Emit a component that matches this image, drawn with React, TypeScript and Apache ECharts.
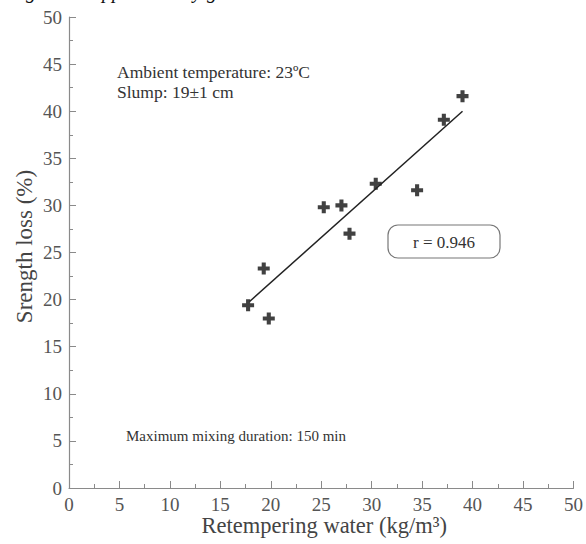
import React, { useEffect, useRef } from "react";
import * as echarts from "echarts";

// Retempering water (kg/m3) and strength loss (%)
const waterX = [17.75, 19.3, 19.8, 25.25, 27.0, 27.8, 30.4, 34.5, 37.15, 39.0];
const lossY = [19.4, 23.3, 18.0, 29.8, 30.0, 27.0, 32.3, 31.6, 39.1, 41.6];
// fitted line end points
const trendX = [17.9, 39.0];
const trendY = [19.8, 40.0];

const xTitle = "Retempering water (kg/m³)";
const yTitle = "Srength loss (%)";
const noteTemp = "Ambient temperature: 23ºC";
const noteSlump = "Slump: 19±1 cm";
const noteMix = "Maximum mixing duration: 150 min";
const rText = "r = 0.946";

const SERIF = "'Liberation Serif', 'DejaVu Serif', serif";
const AXIS_COLOR = "#8a8a8a";
const LABEL_COLOR = "#555";

const plusPath = "path://M3.3,0H6.7V3.3H10V6.7H6.7V10H3.3V6.7H0V3.3H3.3Z";

export default function App() {
  const ref = useRef<HTMLDivElement>(null);

  useEffect(() => {
    if (!ref.current) return;
    const chart = echarts.init(ref.current, undefined, { renderer: "svg" });

    const axisCommon = (name: string, gap: number, nameSize: number, namePad: number[]) => ({
      type: "value" as const,
      min: 0,
      max: 50,
      interval: 5,
      name,
      nameLocation: "middle" as const,
      nameGap: gap,
      nameMoveOverlap: false,
      nameTextStyle: { color: "#444", fontFamily: SERIF, fontSize: nameSize, padding: namePad },
      axisLine: { show: true, lineStyle: { color: AXIS_COLOR, width: 1.2 } },
      axisTick: { show: true, inside: true, length: 7, lineStyle: { color: AXIS_COLOR, width: 1 } },
      minorTick: { show: true, splitNumber: 2, length: 4, lineStyle: { color: AXIS_COLOR, width: 1 } },
      splitLine: { show: false },
      axisLabel: { color: LABEL_COLOR, fontFamily: SERIF, fontSize: 19, margin: 7 },
    });

    const points = waterX.map((x, i) => [x, lossY[i]]);
    const trend = trendX.map((x, i) => [x, trendY[i]]);

    chart.setOption({
      animation: false,
      backgroundColor: "#fff",
      grid: { left: 69, right: 12, top: 17, bottom: 56, containLabel: false },
      xAxis: axisCommon(xTitle, 26, 22.5, [0, 0, 0, 6]),
      yAxis: axisCommon(yTitle, 33, 23, [0, 0, 0, 12]),
      series: [
        {
          type: "line",
          data: trend,
          symbol: "none",
          lineStyle: { color: "#222", width: 1.5 },
          silent: true,
        },
        {
          type: "scatter",
          data: points,
          symbol: plusPath,
          symbolSize: 12,
          itemStyle: { color: "#111" },
        },
      ],
      graphic: [
        {
          type: "text",
          left: 117,
          top: 63,
          style: { text: noteTemp, fill: "#333", font: `17.5px ${SERIF}` },
        },
        {
          type: "text",
          left: 117,
          top: 83,
          style: { text: noteSlump, fill: "#333", font: `17.5px ${SERIF}` },
        },
        {
          type: "text",
          left: 126,
          top: 428,
          style: { text: noteMix, fill: "#333", font: `15px ${SERIF}` },
        },
        {
          type: "rect",
          shape: { x: 388, y: 225, width: 112, height: 33, r: 10 },
          style: { fill: "none", stroke: "#777", lineWidth: 1.2 },
        },
        {
          type: "text",
          x: 444,
          y: 242,
          style: {
            text: rText,
            fill: "#333",
            font: `17px ${SERIF}`,
            align: "center",
            verticalAlign: "middle",
          },
        },
        // descenders of the cropped caption line above the chart
        {
          type: "text",
          x: 26,
          y: -19,
          style: { text: "g", fill: "#111", font: `italic 20px ${SERIF}` },
        },
        {
          type: "text",
          x: 102,
          y: -19,
          style: { text: "pp", fill: "#111", font: `italic 20px ${SERIF}` },
        },
        {
          type: "text",
          x: 193,
          y: -19,
          style: { text: "y g", fill: "#111", font: `italic 20px ${SERIF}` },
        },
      ],
    });

    return () => chart.dispose();
  }, []);

  return (
    <div
      ref={ref}
      style={{ position: "fixed", left: 0, top: 0, width: 586, height: 544, background: "#fff" }}
    />
  );
}
